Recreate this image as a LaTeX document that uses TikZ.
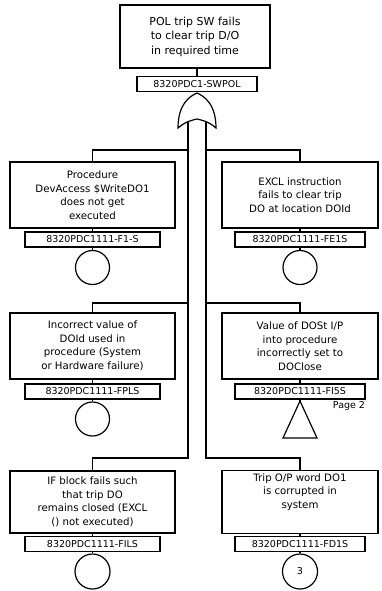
\documentclass[tikz,border=0pt]{standalone}
\usepackage{fontspec}
\setmainfont{DejaVu Sans}
\newcommand{\topfont}{\fontsize{11}{14.5}\selectfont}
\newcommand{\eventfont}{\fontsize{10.2}{13.5}\selectfont}
\newcommand{\tagfont}{\fontsize{9.5}{11}\selectfont}
\tikzset{
    % Event boxes with sharp corners
    event/.style={
        rectangle,
        draw=black,
        fill=white,
        line width=1.2pt,
        align=center,
        inner sep=3pt,
        font=\eventfont
    },
    left box/.style={
        event,
        minimum width=165pt,
        minimum height=66pt
    },
    right box/.style={
        event,
        minimum width=156pt,
        minimum height=66pt
    },
    tag/.style={
        rectangle,
        draw=black,
        fill=white,
        line width=1.2pt,
        minimum height=15pt,
        inner sep=1pt,
        font=\tagfont
    },
    left tag/.style={
        tag,
        minimum width=135pt
    },
    right tag/.style={
        tag,
        minimum width=130pt
    },
    basic/.style={
        circle,
        draw=black,
        line width=1.2pt,
        minimum size=34pt,
        inner sep=0pt,
        font=\tagfont
    },
    link/.style={
        line width=1.2pt,
        black
    }
}
\begin{document}
\begin{tikzpicture}[x=1pt, y=-1pt]
        \useasboundingbox (0,0) rectangle (382,591);

        % Top event
        \node[event, font=\topfont, minimum width=150pt, minimum height=63pt] (top-event) at (195, 36.5) {POL trip SW fails\\to clear trip D/O\\in required time};
        \node[tag, minimum width=120pt] (top-tag) at (197, 84) {8320PDC1-SWPOL};
        \draw[link] (top-tag.north) -- (top-tag.north |- top-event.south);

        % Inputs of the OR gate
        \coordinate (gate-l) at (188, 122);
        \coordinate (gate-r) at (206, 122);

        % Left column
        \node[left box] (r1-left) at (92.5, 195) {Procedure\\DevAccess \$WriteDO1\\does not get\\executed};
        \node[left tag] (r1-left-tag) at (92.5, 239.5) {8320PDC1111-F1-S};
        \node[basic] (r1-left-basic) at (92.5, 267.5) {};

        \node[left box] (r2-left) at (92.5, 346) {Incorrect value of\\DOId used in\\procedure (System\\or Hardware failure)};
        \node[left tag] (r2-left-tag) at (92.5, 391.5) {8320PDC1111-FPLS};
        \node[basic] (r2-left-basic) at (92.5, 419) {};

        \node[left box, minimum height=62pt] (r3-left) at (92.5, 502) {IF block fails such\\that trip DO\\remains closed (EXCL\\() not executed)};
        \node[left tag] (r3-left-tag) at (92.5, 544) {8320PDC1111-FILS};
        \node[basic, minimum size=35pt] (r3-left-basic) at (92.5, 571.5) {};

        % Right column
        \node[right box] (r1-right) at (300, 195) {EXCL instruction\\fails to clear trip\\DO at location DOId};
        \node[right tag] (r1-right-tag) at (300, 239.5) {8320PDC1111-FE1S};
        \node[basic] (r1-right-basic) at (300, 267.5) {};

        \node[right box] (r2-right) at (300, 346) {Value of DOSt I/P\\into procedure\\incorrectly set to\\DOClose};
        \node[right tag] (r2-right-tag) at (300, 391.5) {8320PDC1111-FI5S};
        \coordinate (r2-right-apex) at (300, 401);
        \node[font=\tagfont] (page-ref) at (349, 406) {Page 2};

        \node[right box, minimum height=62pt, text depth=22pt] (r3-right) at (300, 502) {Trip O/P word DO1\\is corrupted in\\system};
        \node[right tag] (r3-right-tag) at (300, 544) {8320PDC1111-FD1S};
        \node[basic, minimum size=35pt] (r3-right-basic) at (300, 571.5) {3};

        % Trunk and branches
        \draw[link] (gate-l) -- (gate-l |- 0,458) -| (r3-left.north);
        \draw[link] (gate-l |- 0,150) -| (r1-left.north);
        \draw[link] (gate-l |- 0,303) -| (r2-left.north);
        \draw[link] (gate-r) -- (gate-r |- 0,458) -| (r3-right.north);
        \draw[link] (gate-r |- 0,150) -| (r1-right.north);
        \draw[link] (gate-r |- 0,303) -| (r2-right.north);

        % OR gate
        \draw[link, fill=white] (197,93) .. controls (204,96) and (216,104) .. (216,128)
            .. controls (208,121) and (201,120) .. (197,119)
            .. controls (193,120) and (186,121) .. (178,128)
            .. controls (178,104) and (190,96) .. (197,93) -- cycle;

        % Stubs between boxes, tags and symbols
        \draw[link] (r1-left) -- (r1-left-tag);
        \draw[link] (r1-left-tag) -- (r1-left-basic);
        \draw[link] (r2-left) -- (r2-left-tag);
        \draw[link] (r2-left-tag) -- (r2-left-basic);
        \draw[link] (r3-left) -- (r3-left-tag);
        \draw[link] (r3-left-tag) -- (r3-left-basic);
        \draw[link] (r1-right) -- (r1-right-tag);
        \draw[link] (r1-right-tag) -- (r1-right-basic);
        \draw[link] (r2-right) -- (r2-right-tag);
        \draw[link] (r2-right-tag.south) -- (r2-right-apex);
        \draw[link] (r2-right-apex) -- ++(17,37) -- ++(-34,0) -- cycle;
        \draw[link] (r3-right) -- (r3-right-tag);
        \draw[link] (r3-right-tag) -- (r3-right-basic);
    \end{tikzpicture}
\end{document}
